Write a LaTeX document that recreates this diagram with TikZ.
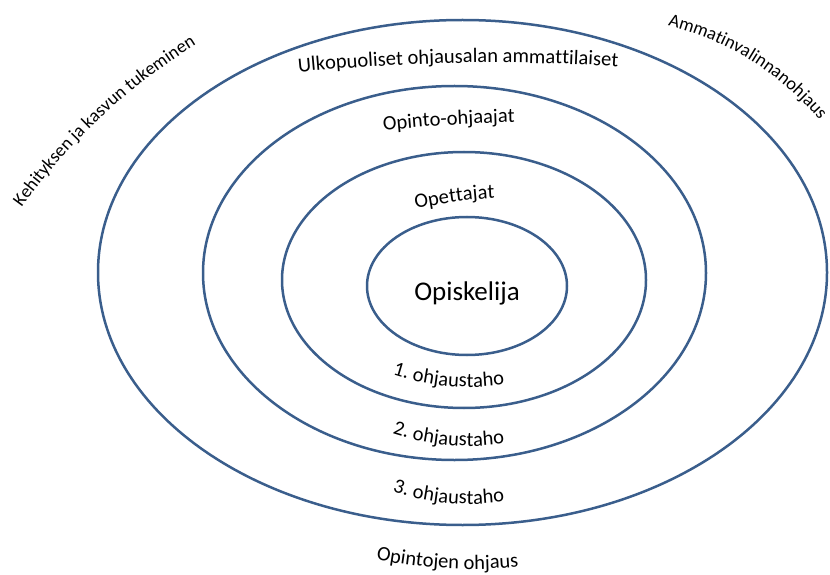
\documentclass[tikz,border=0pt]{standalone}
\usepackage{fontspec}
\setmainfont{Carlito}
\usetikzlibrary{decorations.text}
\definecolor{ringblue}{RGB}{58,94,140}
\newcommand{\ringfont}{\fontsize{20.5}{24}\selectfont}
\newcommand{\cornerfont}{\fontsize{18.4}{22}\selectfont}

\begin{document}
\begin{tikzpicture}[x=1pt,y=1pt,
	ring/.style={draw=ringblue, line width=2.5pt},
	arch/.style={decorate, decoration={text along path, text={|\ringfont|#1}, text align=center}},
	cornerarch/.style={decorate, decoration={text along path, text={|\cornerfont|#1}, text align=center}}]
	\useasboundingbox (0,0) rectangle (830,574);
	
	% rings
	\draw[ring] (462.5,301.5) ellipse[x radius=364.5, y radius=252.5];
	\draw[ring] (454.5,301) ellipse[x radius=251.5, y radius=187];
	\draw[ring] (464,294) ellipse[x radius=182, y radius=128];
	\draw[ring] (467,288) ellipse[x radius=100, y radius=69];
	
	\node[font=\fontsize{27}{32}\selectfont, anchor=base] (opiskelija) at (467,274) {Opiskelija};
	
	% centres of the arched labels
	\coordinate (c-ulko) at (492.9,-1488.7);
	\coordinate (c-opinto) at (540.6,-1048.2);
	\coordinate (c-opettajat) at (520.3,-123.7);
	\coordinate (c-taho1) at (469.8,437);
	\coordinate (c-taho2) at (469.8,378);
	\coordinate (c-taho3) at (469.8,320);
	\coordinate (c-opintojen) at (473.2,504.8);
	\coordinate (c-kehitys) at (521,6);
	\coordinate (c-ammatti) at (598,268);
	
	\path[arch={Ulkopuoliset ohjausalan ammattilaiset}] ([shift={(98:2000)}]c-ulko) arc[start angle=98, end angle=84, radius=2000];
	\path[arch={Opinto-ohjaajat}] ([shift={(98.5:1500)}]c-opinto) arc[start angle=98.5, end angle=88.5, radius=1500];
	\path[arch={Opettajat}] ([shift={(105.5:500)}]c-opettajat) arc[start angle=105.5, end angle=89.5, radius=500];
	
	\path[arch={1. ohjaustaho}] ([shift={(249:250)}]c-taho1) arc[start angle=249, end angle=281, radius=250];
	\path[arch={2. ohjaustaho}] ([shift={(249:250)}]c-taho2) arc[start angle=249, end angle=281, radius=250];
	\path[arch={3. ohjaustaho}] ([shift={(249:250)}]c-taho3) arc[start angle=249, end angle=281, radius=250];
	\path[arch={Opintojen ohjaus}] ([shift={(256:500)}]c-opintojen) arc[start angle=256, end angle=278, radius=500];
	
	\path[cornerarch={Kehityksen ja kasvun tukeminen}] ([shift={(150:616)}]c-kehitys) arc[start angle=150, end angle=116, radius=616];
	\path[cornerarch={Ammatinvalinnanohjaus}] ([shift={(80:289)}]c-ammatti) arc[start angle=80, end angle=36, radius=289];
\end{tikzpicture}
\end{document}
